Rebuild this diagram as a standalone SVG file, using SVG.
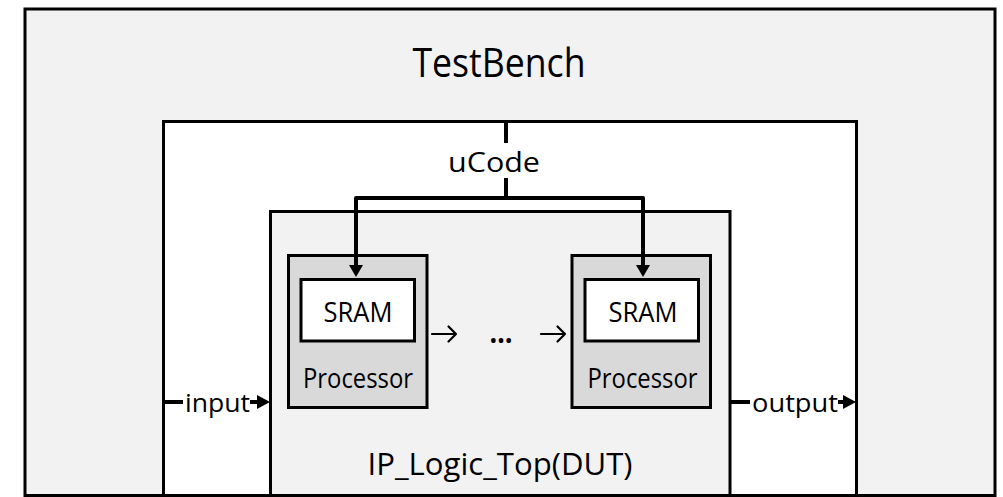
<svg xmlns="http://www.w3.org/2000/svg" width="1003" height="497" viewBox="0 0 1003 497">
  <defs>
    <style>
      .box { stroke: #000; stroke-width: 3; }
      .grey { fill: #f2f2f2; }
      .white { fill: #ffffff; }
      .proc { fill: #d9d9d9; }
      .wire { fill: none; stroke: #000; stroke-width: 4; stroke-linejoin: round; }
      .thin { fill: none; stroke: #000; stroke-width: 2.2; stroke-linecap: round; stroke-linejoin: round; }
      .head { fill: #000; stroke: none; }
      .t { font-family: "Open Sans", "Noto Sans", "DejaVu Sans", sans-serif; fill: #000; text-anchor: middle; }
    </style>
  </defs>

  <rect width="1003" height="497" fill="#ffffff"/>

  <g id="testbench">
    <rect class="box grey" x="25" y="9" width="970" height="486.5"/>
    <text class="t" x="499" y="77" font-size="40" textLength="173" lengthAdjust="spacingAndGlyphs">TestBench</text>
  </g>

  <g id="inner">
    <rect class="box white" x="163.5" y="121.5" width="693" height="374"/>
  </g>

  <g id="dut">
    <rect class="box grey" x="270.5" y="211.5" width="459.5" height="284"/>
    <text class="t" x="500" y="475" font-size="31" textLength="265" lengthAdjust="spacingAndGlyphs">IP_Logic_Top(DUT)</text>
  </g>

  <g id="processor1">
    <rect class="box proc" x="288.5" y="255.5" width="138.5" height="152"/>
    <rect id="sram1" class="box white" x="301" y="279.5" width="113.5" height="61.5"/>
    <text class="t" x="358" y="322" font-size="28" textLength="69" lengthAdjust="spacingAndGlyphs">SRAM</text>
    <text class="t" x="358" y="388" font-size="28" textLength="110" lengthAdjust="spacingAndGlyphs">Processor</text>
  </g>

  <g id="processor2">
    <rect class="box proc" x="572" y="255.5" width="138.5" height="152"/>
    <rect id="sram2" class="box white" x="585" y="279.5" width="113.5" height="61.5"/>
    <text class="t" x="643" y="322" font-size="28" textLength="69" lengthAdjust="spacingAndGlyphs">SRAM</text>
    <text class="t" x="642.5" y="388" font-size="28" textLength="110" lengthAdjust="spacingAndGlyphs">Processor</text>
  </g>

  <g id="ellipsis">
    <text class="t" x="501" y="343" font-size="30" font-weight="bold" textLength="23" lengthAdjust="spacingAndGlyphs">…</text>
  </g>

  <g id="connectors">
    <path class="thin" d="M432,334 H456 M448.5,326.5 L456,334 L448.5,341.5"/>
    <path class="thin" d="M541,334 H565 M557.5,326.5 L565,334 L557.5,341.5"/>
    <line class="wire" x1="506" y1="121" x2="506" y2="143"/>
    <path class="wire" d="M506,178 V198 H356 V266"/>
    <path class="wire" d="M506,198 H643 V266"/>
    <polygon class="head" points="349,265 363,265 356,277"/>
    <polygon class="head" points="636,265 650,265 643,277"/>
    <line class="wire" x1="163" y1="402" x2="183" y2="402"/>
    <line class="wire" x1="250" y1="402" x2="258" y2="402"/>
    <polygon class="head" points="257,395 257,409 270,402"/>
    <line class="wire" x1="730" y1="402" x2="750" y2="402"/>
    <line class="wire" x1="838" y1="402" x2="844" y2="402"/>
    <polygon class="head" points="843,395 843,409 856,402"/>
  </g>

  <g id="labels">
    <text class="t" x="494" y="172" font-size="28" textLength="92" lengthAdjust="spacingAndGlyphs">uCode</text>
    <text class="t" x="217.5" y="412" font-size="26" textLength="65" lengthAdjust="spacingAndGlyphs">input</text>
    <text class="t" x="795" y="412" font-size="26" textLength="86" lengthAdjust="spacingAndGlyphs">output</text>
  </g>
</svg>
